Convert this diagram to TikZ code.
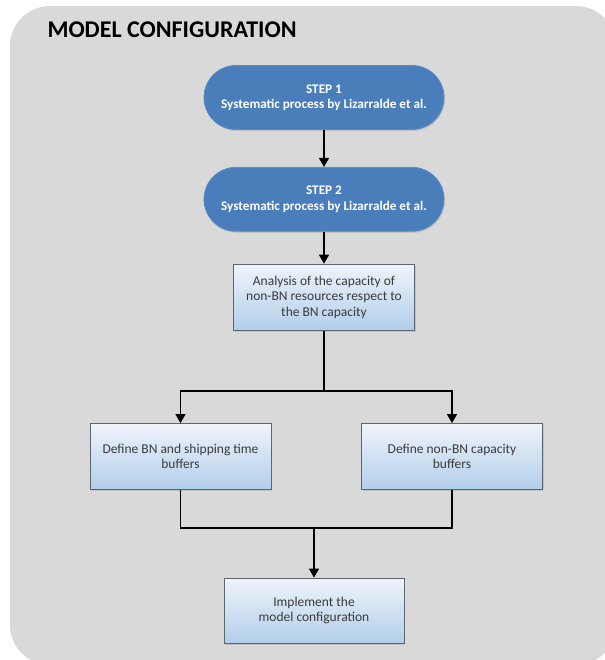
\documentclass[tikz,border=0pt]{standalone}
\usepackage{fontspec}
\setmainfont{Carlito}
\usepackage{tikz}
\usetikzlibrary{shapes, arrows.meta, positioning, calc, shadows}

\definecolor{panelgray}{HTML}{D9D9D9}
\definecolor{stepblue}{HTML}{4A7EBB}
\definecolor{stepedge}{HTML}{5A8AC6}
\definecolor{boxtop}{HTML}{EEF4FB}
\definecolor{boxbot}{HTML}{B3CEEA}
\definecolor{boxedge}{HTML}{5C6670}
\definecolor{boxtext}{HTML}{3A3A3A}

\begin{document}
\begin{tikzpicture}[x=1pt, y=1pt,
	stepnode/.style={draw=stepedge, line width=0.8pt, fill=stepblue, rounded corners=32pt,
		minimum width=240pt, minimum height=64pt, text=white, align=center,
		font=\fontsize{13.2}{15.3}\selectfont\bfseries,
		drop shadow={opacity=0.25, shadow xshift=1pt, shadow yshift=-1.5pt}},
	taskbox/.style={draw=boxedge, line width=0.8pt, top color=boxtop, bottom color=boxbot,
		minimum width=181pt, minimum height=66pt, text=boxtext, align=center,
		font=\fontsize{13.5}{15.7}\selectfont,
		drop shadow={opacity=0.25, shadow xshift=1pt, shadow yshift=-1.5pt}},
	flow/.style={line width=1.4pt, -{Triangle[length=9pt, width=10pt]}},
	link/.style={line width=1.4pt}]
	\useasboundingbox (0,0) rectangle (604,-660);
	% grey panel behind everything
	\fill[panelgray, rounded corners=40pt] (10,-6) rectangle (616,-665);
	\node[anchor=base west, font=\fontsize{24}{28}\selectfont\bfseries] (title) at (44,-38) {MODEL CONFIGURATION};

	\node[stepnode] (step1) at (324,-97.5) {STEP 1\\Systematic process by Lizarralde et al.};
	\node[stepnode, below=37pt of step1] (step2) {STEP 2\\Systematic process by Lizarralde et al.};
	\node[taskbox, below=32pt of step2] (analysis) {Analysis of the capacity of\\non-BN resources respect to\\the BN capacity};
	\node[taskbox] (bnbuf) at (180.5,-456.5) {Define BN and shipping time\\buffers};
	\node[taskbox] (nonbnbuf) at (452,-456.5) {Define non-BN capacity\\buffers};
	\node[taskbox, minimum width=180pt, minimum height=65pt] (implement) at (314,-610.5) {Implement the\\model configuration};

	\coordinate (split) at (324,-391);
	\coordinate (join) at (314,-528);

	\draw[flow] (step1) -- (step2);
	\draw[flow] (step2) -- (analysis);
	\draw[link] (analysis.south) -- (split);
	\draw[flow] (split) -| (bnbuf);
	\draw[flow] (split) -| (nonbnbuf);
	\draw[link] (bnbuf.south) |- (join) -| (nonbnbuf.south);
	\draw[flow] (join) -- (implement);
\end{tikzpicture}
\end{document}
